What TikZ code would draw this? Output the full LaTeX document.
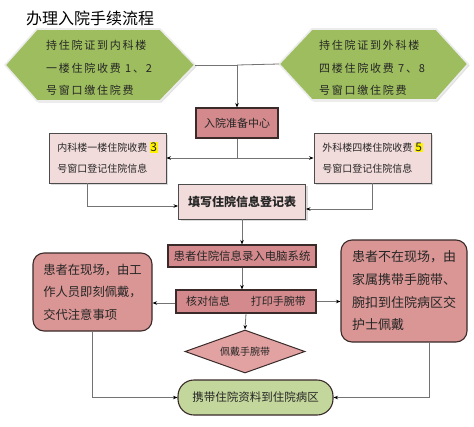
\documentclass[tikz,border=0pt]{standalone}
\usepackage{fontspec}
\newfontfamily\cjk{Noto Sans CJK SC}
\usetikzlibrary{shadows,arrows.meta,shapes.geometric,calc}
\definecolor{hexgreen}{HTML}{9DBD5E}
\definecolor{darkpink}{HTML}{D48A8C}
\definecolor{midpink}{HTML}{D99694}
\definecolor{diapink}{HTML}{E3A2A2}
\definecolor{lightpink}{HTML}{F2DCDB}
\definecolor{ovalgreen}{HTML}{C3D69B}
\definecolor{edgedark}{HTML}{3A2A2A}
\newcommand\hlmark[1]{{\setlength{\fboxsep}{0.6pt}\colorbox{yellow}{#1}}}
\begin{document}
\begin{tikzpicture}[x=1pt,y=-1pt,
  every node/.style={font=\cjk, text=black!85},
  conn/.style={draw=black!55, line width=0.8pt},
  arr/.style={conn, -{Stealth[length=4.5pt,width=3.5pt,color=black]}},
  hexbox/.style={fill=hexgreen, draw=white!85!gray, line width=1.6pt,
    drop shadow={shadow xshift=1.5pt, shadow yshift=-1.5pt, fill=gray!45}},
  hextext/.style={align=left, inner sep=0pt,
    font=\cjk\addfontfeature{LetterSpace=16}\fontsize{11}{22.5}\selectfont},
  darkbox/.style={rectangle, fill=darkpink, draw=edgedark, line width=1.1pt, inner sep=0pt},
  lightbox/.style={rectangle, fill=lightpink, draw=black!70, line width=0.9pt, inner sep=0pt,
    drop shadow={shadow xshift=2pt, shadow yshift=-2pt, fill=gray!55}},
  roundbox/.style={rectangle, rounded corners=11pt, fill=midpink, draw=edgedark, line width=1.1pt, inner sep=0pt, align=left},
]
\useasboundingbox[fill=white] (0,0) rectangle (474,426);

% title
\node[anchor=west, inner sep=0pt, font=\cjk\fontsize{16}{18}\selectfont, text=black] (title) at (26,18) {办理入院手续流程};

% hexagons
\draw[hexbox] (5,65) -- (37,29) -- (160,29) -- (195,65) -- (160,101) -- (37,101) -- cycle;
\coordinate (hexLtip) at (195,65);
\node[hextext] (hexL) at (99,68) {持住院证到内科楼\\一楼住院收费 1、2\\号窗口缴住院费};

\draw[hexbox] (279,64) -- (312,29) -- (436,29) -- (468,64) -- (436,100) -- (312,100) -- cycle;
\coordinate (hexRtip) at (279,64);
\node[hextext] (hexR) at (372,68) {持住院证到外科楼\\四楼住院收费 7、8\\号窗口缴住院费};

% ready center
\node[darkbox, minimum width=82pt, minimum height=30pt, font=\cjk\fontsize{11}{13}\selectfont] (ready) at (237,123) {入院准备中心};

% registration boxes
\node[lightbox, minimum width=117pt, minimum height=50pt, align=left,
  font=\cjk\fontsize{10}{21}\selectfont] (boxL) at (107.5,158) {内科楼一楼住院收费 \hlmark{\fontsize{12}{12}\selectfont 3}\\号窗口登记住院信息};
\node[lightbox, minimum width=117pt, minimum height=50pt, align=left,
  font=\cjk\fontsize{10}{21}\selectfont] (boxR) at (372.5,158) {外科楼四楼住院收费 \hlmark{\fontsize{12}{12}\selectfont 5}\\号窗口登记住院信息};

% fill form
\node[lightbox, minimum width=127pt, minimum height=35pt,
  font=\cjk\bfseries\fontsize{12}{14}\selectfont] (fill) at (242,201.5) {填写住院信息登记表};

% enter into system
\node[darkbox, minimum width=148pt, minimum height=22pt, font=\cjk\fontsize{11.4}{13}\selectfont] (enter) at (242,256) {患者住院信息录入电脑系统};

% check / print
\node[darkbox, minimum width=140pt, minimum height=23pt, font=\cjk\fontsize{11}{13}\selectfont] (check) at (246,301.5) {核对信息\hspace{1.9em}打印手腕带};

% diamond
\node[shape=diamond, aspect=2.8, minimum width=120pt, minimum height=43pt, inner sep=0pt,
  fill=diapink, draw=edgedark, line width=1pt, font=\cjk\fontsize{10}{12}\selectfont] (wear) at (245,351.5) {佩戴手腕带};

% oval
\node[rectangle, rounded corners=16pt, minimum width=155pt, minimum height=35pt, inner sep=0pt,
  fill=ovalgreen, draw=edgedark, line width=1.1pt, font=\cjk\fontsize{11.5}{13}\selectfont] (ward) at (255.5,397.5) {携带住院资料到住院病区};

% rounded side boxes
\node[roundbox, minimum width=119pt, minimum height=78pt,
  font=\cjk\fontsize{12.3}{22.5}\selectfont] (present) at (92.5,292) {患者在现场，由工\\作人员即刻佩戴，\\交代注意事项};
\node[roundbox, minimum width=126pt, minimum height=102pt,
  font=\cjk\fontsize{13}{22.7}\selectfont] (absent) at (404,291) {患者不在现场，由\\家属携带手腕带、\\腕扣到住院病区交\\护士佩戴};

% connectors
\draw[arr] (hexLtip) -| (ready.north);
\draw[conn] (hexRtip) -- (hexLtip -| ready.north);
\draw[arr] (ready.south) |- (boxL.east);
\draw[arr] (ready.south) |- (boxR.west);
\draw[arr] ([xshift=-20.5pt]boxL.south) |- ([yshift=-4.5pt]fill.west);
\draw[arr] (boxR.south) |- ([yshift=-7.5pt]fill.east);
\draw[arr] (fill.south) -- (fill.south |- enter.north);
\draw[arr] (enter.south) -- (enter.south |- check.north);
\draw[arr] (check.south) -- (wear.north);
\draw[arr] ([yshift=-1.5pt]check.west) -- ([yshift=-1.5pt]check.west -| present.east);
\draw[arr] (check.east) -- (check.east -| absent.west);
\draw[arr] (present.south) |- (ward.west);
\draw[arr] ([xshift=25pt]absent.south) |- (ward.east);
\end{tikzpicture}
\end{document}
